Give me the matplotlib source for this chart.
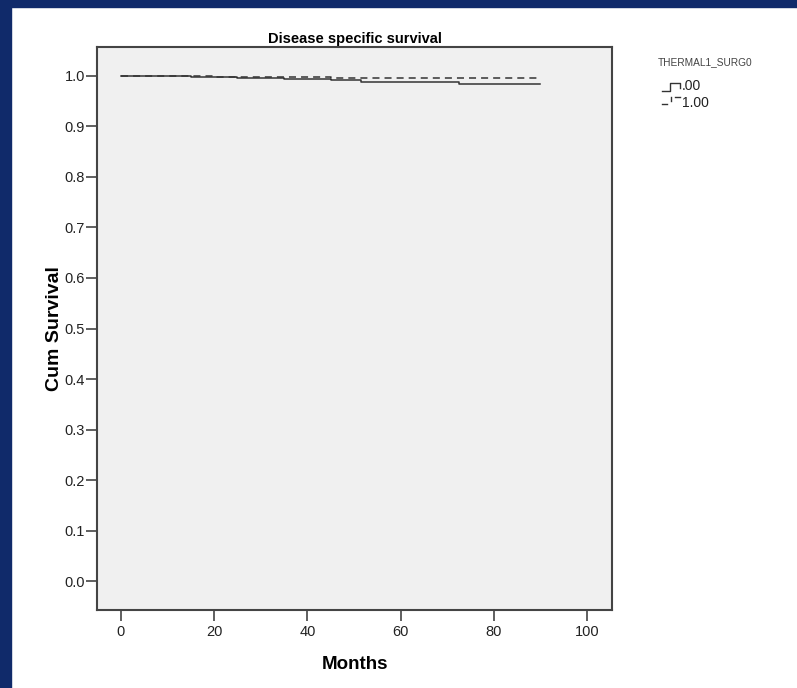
import matplotlib
matplotlib.use("Agg")
import matplotlib.pyplot as plt
from matplotlib.lines import Line2D
from matplotlib.patches import Rectangle

# Data
months_g0 = [0, 5, 10, 15, 20, 25, 30, 35, 40, 45, 51.5, 72.5, 90]
surv_g0 = [1.0, 0.9995, 0.999, 0.998, 0.997, 0.996, 0.995, 0.994, 0.993, 0.992, 0.987, 0.984, 0.984]
months_g1 = [0, 10, 20, 30, 45, 52, 90]
surv_g1 = [1.0, 0.999, 0.998, 0.997, 0.996, 0.995, 0.995]
x_ticks = [0, 20, 40, 60, 80, 100]
y_ticks = [0.0, 0.1, 0.2, 0.3, 0.4, 0.5, 0.6, 0.7, 0.8, 0.9, 1.0]
legend_title = "THERMAL1_SURG0"
legend_labels = [".00", "1.00"]

W, H = 797, 688
fig = plt.figure(figsize=(W / 100, H / 100), dpi=100, facecolor="white")
navy = "#102a6a"
fig.patches.append(Rectangle((0, 1 - 7 / H), 1, 7 / H, transform=fig.transFigure, color=navy, zorder=0))
fig.patches.append(Rectangle((0, 0), 11 / W, 1, transform=fig.transFigure, color=navy, zorder=0))

ax = fig.add_axes([97 / W, 1 - 610 / H, (612 - 97) / W, (610 - 47) / H])
ax.set_facecolor("#f0f0f0")
ax.step(months_g0, surv_g0, where="post", color="#333333", lw=1.1)
ax.step(months_g1, surv_g1, where="post", color="#333333", lw=1.1, ls=(0, (4.6, 3.3)))

ax.set_xlim(-5.15, 105.4)
ax.set_ylim(-0.057, 1.057)
ax.set_xticks(x_ticks)
ax.set_yticks(y_ticks)
ax.set_xticklabels([str(v) for v in x_ticks], family=["Liberation Sans", "DejaVu Sans"], fontsize=10.5,
                   color="#222222")
ax.set_yticklabels([f"{v:.1f}" for v in y_ticks], family=["Liberation Sans", "DejaVu Sans"], fontsize=10.5,
                   color="#222222")
ax.tick_params(direction="out", length=8, width=1.2, color="#444444", pad=0.5)
ax.tick_params(axis="x", pad=3)
for s in ax.spines.values():
    s.set_color("#444444")
    s.set_linewidth(1.5)

ax.set_title("Disease specific survival", fontsize=10.5, fontweight="bold",
             family=["Liberation Sans", "DejaVu Sans"], pad=3)
ax.set_xlabel("Months", fontsize=13.5, fontweight="bold",
              family=["Liberation Sans", "DejaVu Sans"], labelpad=12)
ax.set_ylabel("Cum Survival", fontsize=14, fontweight="bold",
              family=["Liberation Sans", "DejaVu Sans"], labelpad=1)

# Legend
fig.text(658 / W, 1 - 62 / H, legend_title, fontsize=7.3, color="#444444",
         family=["Liberation Sans", "DejaVu Sans"], va="center")
# solid sample (step shape)
fig.lines.append(Line2D([662 / W, 670 / W, 670 / W, 680 / W, 680 / W],
                        [1 - 91 / H, 1 - 91 / H, 1 - 83 / H, 1 - 83 / H, 1 - 88 / H],
                        transform=fig.transFigure, color="#333333", lw=1.0))
fig.lines.append(Line2D([662 / W, 667 / W], [1 - 104 / H, 1 - 104 / H],
                        transform=fig.transFigure, color="#333333", lw=1.0))
fig.lines.append(Line2D([671 / W, 671 / W], [1 - 97 / H, 1 - 101 / H],
                        transform=fig.transFigure, color="#333333", lw=1.0))
fig.lines.append(Line2D([675 / W, 680 / W], [1 - 97 / H, 1 - 97 / H],
                        transform=fig.transFigure, color="#333333", lw=1.0))
fig.text(682 / W, 1 - 86 / H, legend_labels[0], fontsize=10, color="#222222",
         family=["Liberation Sans", "DejaVu Sans"], va="center")
fig.text(682 / W, 1 - 103 / H, legend_labels[1], fontsize=10, color="#222222",
         family=["Liberation Sans", "DejaVu Sans"], va="center")

fig.savefig("out.png", dpi=100, facecolor="white")
